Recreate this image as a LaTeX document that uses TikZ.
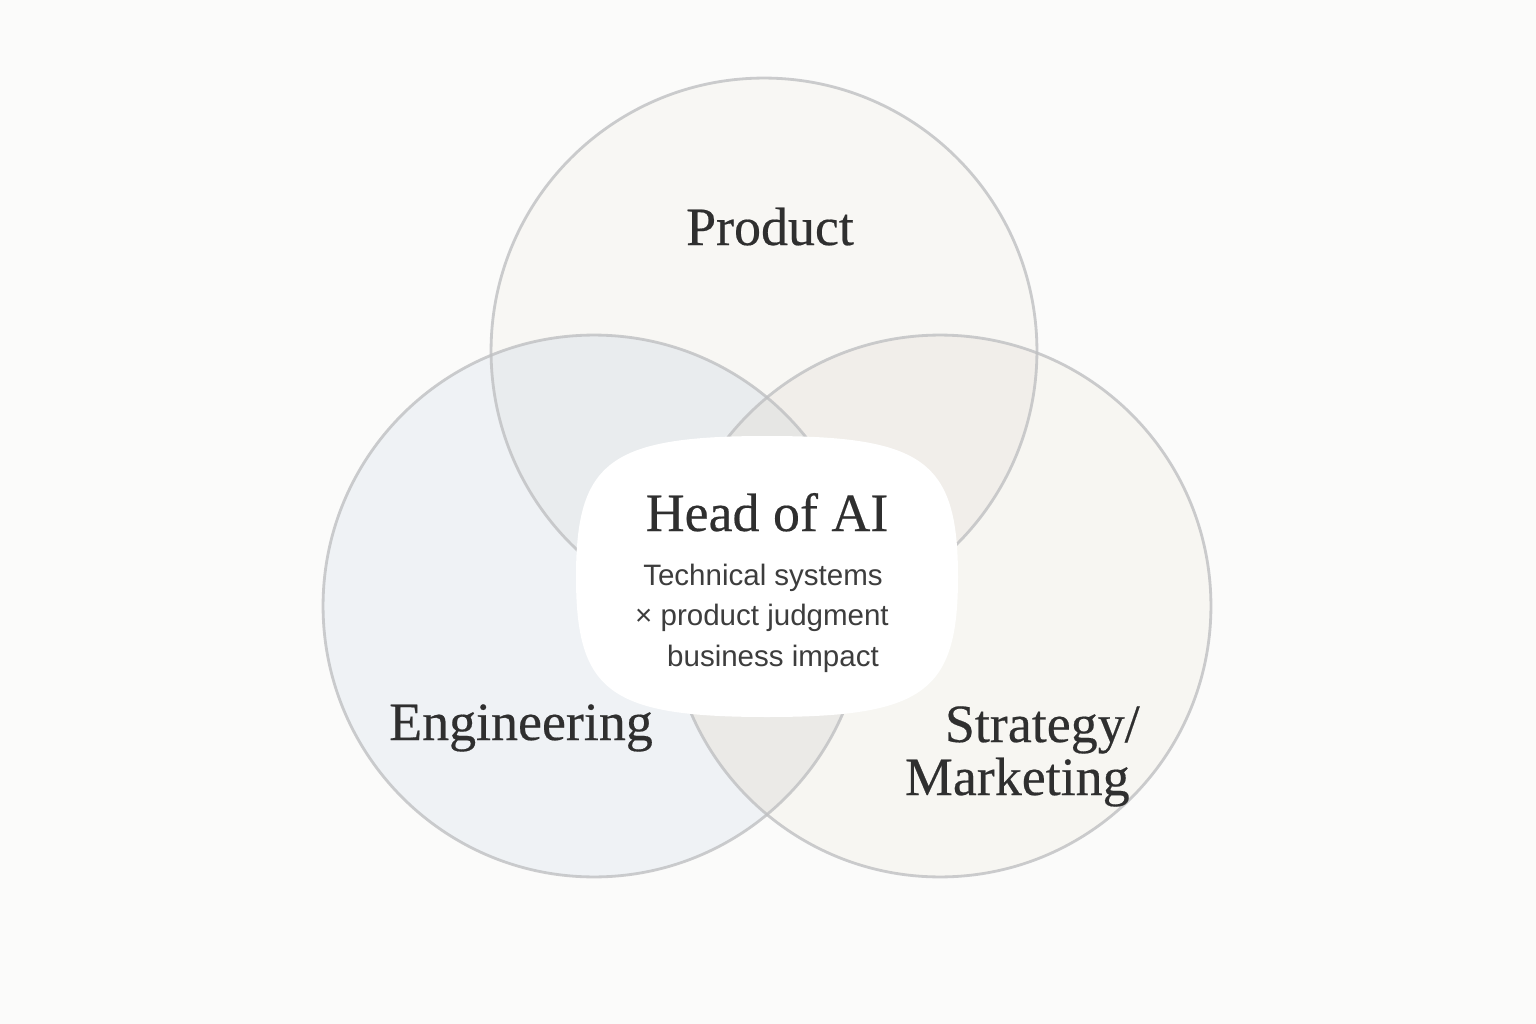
\documentclass[tikz,border=0pt]{standalone}
\usepackage{fontspec}
\setmainfont{Liberation Serif}
\newfontfamily\titlef[FakeBold=0.35]{Liberation Serif}
\newfontfamily\sansf{Liberation Sans}
\definecolor{bgc}{HTML}{FBFBFA}
\definecolor{prodc}{HTML}{F8F7F4}
\definecolor{engc}{HTML}{EFF2F5}
\definecolor{stratc}{HTML}{F7F6F2}
\definecolor{pec}{HTML}{E9ECEE}
\definecolor{psc}{HTML}{F1EEEA}
\definecolor{esc}{HTML}{EBEAE7}
\definecolor{pesc}{HTML}{E6E6E4}
\definecolor{rimc}{HTML}{BFC0C2}
\definecolor{titlec}{HTML}{2F2F2F}
\definecolor{subc}{HTML}{3D3D3D}
\tikzset{
  rim/.style={draw=rimc, draw opacity=0.8, line width=1.6pt},
  titletext/.style={text=titlec, font=\titlef\fontsize{30.7}{36}\selectfont, inner sep=0pt, anchor=base},
  subtext/.style={text=subc, font=\sansf\fontsize{16.8}{20}\selectfont, inner sep=0pt, anchor=base},
  centerbox/.style={fill=white, draw=none}
}
\begin{document}
\begin{tikzpicture}[x=0.02cm,y=-0.02cm]
\useasboundingbox (0,0) rectangle (1536,1024);
\fill[bgc] (0,0) rectangle (1536,1024);
\coordinate (pc) at (764,351);
\coordinate (ec) at (594,606);
\coordinate (sc) at (940,606);
% base fills
\fill[prodc] (pc) circle[radius=5.46cm];
\fill[engc] (ec) circle[radius=5.42cm];
\fill[stratc] (sc) circle[radius=5.42cm];
% overlaps
\begin{scope}
  \clip (pc) circle[radius=5.46cm];
  \fill[pec] (ec) circle[radius=5.42cm];
\end{scope}
\begin{scope}
  \clip (pc) circle[radius=5.46cm];
  \fill[psc] (sc) circle[radius=5.42cm];
\end{scope}
\begin{scope}
  \clip (ec) circle[radius=5.42cm];
  \fill[esc] (sc) circle[radius=5.42cm];
\end{scope}
\begin{scope}
  \clip (ec) circle[radius=5.42cm];
  \clip (sc) circle[radius=5.42cm];
  \fill[pesc] (pc) circle[radius=5.46cm];
\end{scope}
% rims
\draw[rim] (pc) circle[radius=5.46cm];
\draw[rim] (ec) circle[radius=5.42cm];
\draw[rim] (sc) circle[radius=5.42cm];
% center box (squircle)
\coordinate (hubR) at (958,577);
\coordinate (hubT) at (767,436);
\coordinate (hubL) at (576,577);
\coordinate (hubB) at (767,717);
\fill[centerbox] (hubR) .. controls (958,461) and (924,436) .. (hubT)
  .. controls (610,436) and (576,461) .. (hubL)
  .. controls (576,692) and (610,717) .. (hubB)
  .. controls (924,717) and (958,692) .. (hubR) -- cycle;
% labels
\node[titletext] (product) at (770,245) {Product};
\node[titletext] (engineering) at (521,740) {Engineering};
\node[titletext, anchor=base east] (strategy) at (1140,742) {Strategy/};
\node[titletext, anchor=base east] (marketing) at (1130,795) {Marketing};
\node[titletext] (head) at (767,531) {Head of AI};
\node[subtext] (line1) at (763,585) {Technical systems};
\node[subtext] (line2) at (762,625) {× product judgment};
\node[subtext] (line3) at (773,666) {business impact};
\end{tikzpicture}
\end{document}
